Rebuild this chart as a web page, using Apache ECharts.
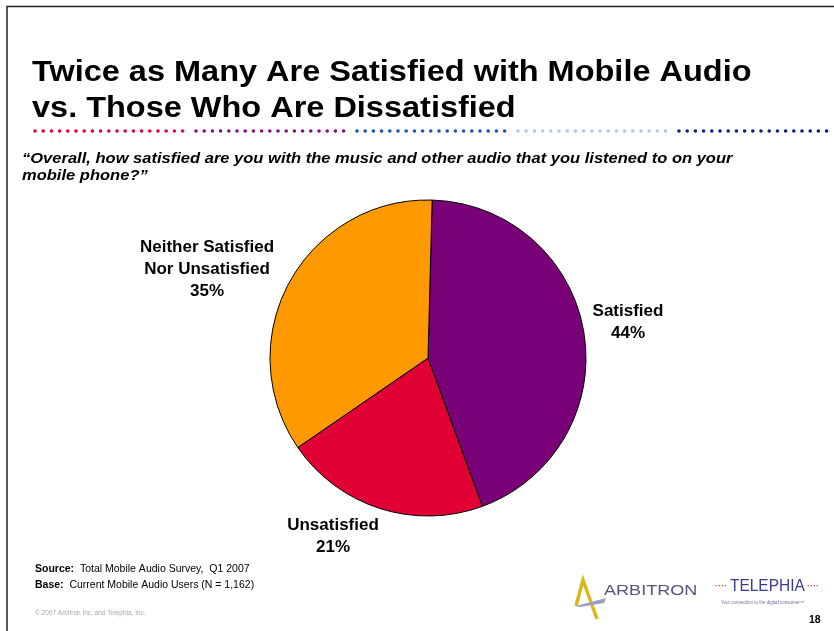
<!DOCTYPE html>
<html>
<head>
<meta charset="utf-8">
<script src="https://cdn.jsdelivr.net/npm/echarts@6/dist/echarts.min.js"></script>
<style>
  html, body { margin: 0; padding: 0; background: #ffffff; }
  #chart { width: 834px; height: 631px; }
</style>
</head>
<body>
<div id="chart"></div>
<script>
// Survey answers (share of respondents, %)
var categories = ['Satisfied', 'Unsatisfied', 'Neither Satisfied\nNor Unsatisfied'];
var shares = [44, 21, 35];

var sliceColors = ['#7A0077', '#E00034', '#FF9900'];
var FONT = '"Liberation Sans", Arial, Helvetica, sans-serif';

// label anchor for each slice
var labelSpots = {
  'Satisfied': [628, 322],
  'Unsatisfied': [333, 536],
  'Neither Satisfied\nNor Unsatisfied': [207, 269]
};

// decorative dotted rule under the headline
var ruleColors = ['#E2003C', '#82107C', '#1D4FBE', '#B3C6EA', '#0B1E8A'];
var ruleDots = [];
ruleColors.forEach(function (c, g) {
  for (var i = 0; i < 19; i++) {
    ruleDots.push({
      type: 'circle',
      shape: { cx: 35 + g * 161 + i * 8.2, cy: 131, r: 1.8 },
      style: { fill: c },
      silent: true
    });
  }
});

var chart = echarts.init(document.getElementById('chart'), null, { renderer: 'canvas' });

chart.setOption({
  backgroundColor: '#ffffff',
  animation: false,
  series: [{
    type: 'pie',
    center: [428, 358],
    radius: 158,
    startAngle: 88.5,
    clockwise: true,
    data: categories.map(function (name, i) {
      return { name: name, value: shares[i], itemStyle: { color: sliceColors[i] } };
    }),
    itemStyle: { borderColor: '#000000', borderWidth: 1 },
    emphasis: { disabled: true },
    labelLine: { show: false },
    label: {
      show: true,
      position: 'outside',
      formatter: function (p) { return p.name + '\n' + p.value + '%'; },
      fontFamily: FONT,
      fontSize: 17,
      fontWeight: 'bold',
      color: '#000000',
      lineHeight: 22,
      align: 'center'
    },
    labelLayout: function (params) {
      var spot = labelSpots[categories[params.dataIndex]];
      return { x: spot[0], y: spot[1], align: 'center', verticalAlign: 'middle' };
    }
  }],
  graphic: [
    // slide frame
    { type: 'polyline', shape: { points: [[7, 640], [7, 6.5], [840, 6.5]] },
      style: { stroke: '#222222', lineWidth: 1.5, fill: null }, silent: true },
    // headline
    { type: 'text', x: 32, y: 55, scaleX: 1.12,
      style: { text: 'Twice as Many Are Satisfied with Mobile Audio\nvs. Those Who Are Dissatisfied',
               font: 'bold 29px ' + FONT, fill: '#000000', lineHeight: 36 } },
    { type: 'group', children: ruleDots },
    // question
    { type: 'text', x: 22, y: 151, scaleX: 1.18,
      style: { text: '\u201cOverall, how satisfied are you with the music and other audio that you listened to on your\nmobile phone?\u201d',
               font: 'italic bold 14px ' + FONT, fill: '#000000', lineHeight: 17 } },
    // source notes
    { type: 'text', x: 35, y: 561,
      style: { text: '{b|Source:}  Total Mobile Audio Survey,  Q1 2007\n{b|Base:}  Current Mobile Audio Users (N = 1,162)',
               font: '10.5px ' + FONT, fill: '#000000', lineHeight: 16,
               rich: { b: { fontWeight: 'bold', fontFamily: FONT, fontSize: 10.5 } } } },
    { type: 'text', x: 35, y: 610,
      style: { text: '\u00a9 2007 Arbitron Inc. and Telephia, Inc.', font: '6.5px ' + FONT, fill: '#A8A8A8' } },
    // Arbitron mark
    { type: 'polyline', shape: { points: [[576, 606], [583, 580], [597, 619]] },
      style: { stroke: '#D8B818', lineWidth: 3.5, fill: null, lineJoin: 'miter' }, silent: true },
    { type: 'polygon', shape: { points: [[576, 606], [606, 598], [604, 603], [580, 607]] },
      style: { fill: '#9C9CC0' }, silent: true },
    { type: 'text', x: 604, y: 584, scaleX: 1.29,
      style: { text: 'ARBITRON', font: '14px ' + FONT, fill: '#55557E' } },
    // Telephia mark
    { type: 'text', x: 715, y: 582, style: { text: '\u00b7\u00b7\u00b7\u00b7', font: 'bold 9px ' + FONT, fill: '#D04060' } },
    { type: 'text', x: 730, y: 578, scaleX: 0.91,
      style: { text: 'TELEPHIA', font: '17px ' + FONT, fill: '#3B3B92' } },
    { type: 'text', x: 807, y: 582, style: { text: '\u00b7\u00b7\u00b7\u00b7', font: 'bold 9px ' + FONT, fill: '#D04060' } },
    { type: 'text', x: 721, y: 600,
      style: { text: 'Your connection to the digital consumer\u2122', font: '4.5px ' + FONT, fill: '#7070A8' } },
    // page number
    { type: 'text', x: 809, y: 615, style: { text: '18', font: 'bold 10.5px ' + FONT, fill: '#000000' } }
  ]
});
</script>
</body>
</html>
